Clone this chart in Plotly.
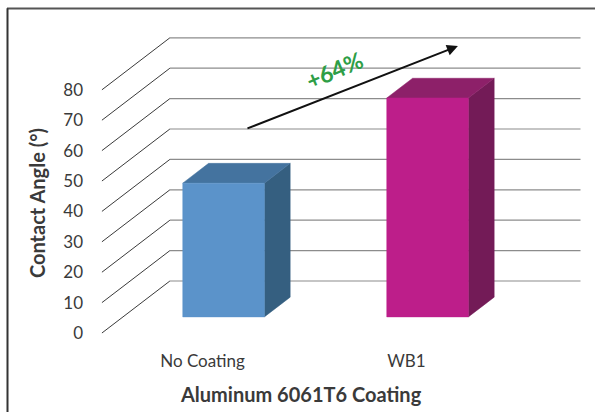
import plotly.graph_objects as go

# Data
categories = ["No Coating", "WB1"]
contact_angle = [44, 72]
y_ticks = [0, 10, 20, 30, 40, 50, 60, 70, 80]
increase_label = "+64%"
x_title = "Aluminum 6061T6 Coating"
y_title = "Contact Angle (°)"

# Bar face colours: front, top, side
front_colors = ["#5b93ca", "#bd1e8a"]
top_colors = ["#44739f", "#8d2069"]
side_colors = ["#355f80", "#731b57"]

# Oblique projection used for the 3-D look (depth d runs 0 = front .. 1 = back wall)
DEPTH_X = 0.333   # x-units shift at the back wall
DEPTH_Y = 17.1    # value-units shift at the back wall
BAR_FRONT, BAR_BACK = 0.31, 0.69
BAR_HALF = 0.2
WALL_LEFT, WALL_RIGHT = -0.493, 1.52


def proj(x, v, d):
    return x + d * DEPTH_X, v + d * DEPTH_Y


def poly(points):
    xs = [p[0] for p in points] + [points[0][0]]
    ys = [p[1] for p in points] + [points[0][1]]
    return xs, ys


fig = go.Figure()

# Walls: diagonals on the side wall and horizontal lines on the back wall
diag_x, diag_y, back_x, back_y = [], [], [], []
for v in y_ticks:
    x0, y0 = proj(WALL_LEFT, v, 0)
    x1, y1 = proj(WALL_LEFT, v, 1)
    x2, y2 = proj(WALL_RIGHT, v, 1)
    diag_x += [x0, x1, None]
    diag_y += [y0, y1, None]
    back_x += [x1, x2, None]
    back_y += [y1, y2, None]

fig.add_trace(go.Scatter(x=back_x, y=back_y, mode="lines",
                         line=dict(color="#8c8c8c", width=1.2),
                         hoverinfo="skip", showlegend=False))
fig.add_trace(go.Scatter(x=diag_x, y=diag_y, mode="lines",
                         line=dict(color="#3a3a3a", width=1),
                         hoverinfo="skip", showlegend=False))

# Bars as projected boxes
for i, (cat, val) in enumerate(zip(categories, contact_angle)):
    xl, xr = i - BAR_HALF, i + BAR_HALF
    fl_b = proj(xl, 0, BAR_FRONT)
    fr_b = proj(xr, 0, BAR_FRONT)
    fr_t = proj(xr, val, BAR_FRONT)
    fl_t = proj(xl, val, BAR_FRONT)
    bl_t = proj(xl, val, BAR_BACK)
    br_t = proj(xr, val, BAR_BACK)
    br_b = proj(xr, 0, BAR_BACK)

    faces = [
        ([fr_b, br_b, br_t, fr_t], side_colors[i]),
        ([fl_t, fr_t, br_t, bl_t], top_colors[i]),
        ([fl_b, fr_b, fr_t, fl_t], front_colors[i]),
    ]
    for pts, col in faces:
        xs, ys = poly(pts)
        fig.add_trace(go.Scatter(x=xs, y=ys, mode="lines", fill="toself",
                                 fillcolor=col, line=dict(color=col, width=0.5),
                                 name=cat, hoverinfo="skip", showlegend=False))

# Arrow showing the increase, with its label
fig.add_annotation(x=1.252, y=94.4, ax=0.213, ay=67.1, xref="x", yref="y",
                   axref="x", ayref="y", text="", showarrow=True,
                   arrowhead=2, arrowsize=1.1, arrowwidth=2, arrowcolor="#111111")
fig.add_annotation(x=0.645, y=86.5, xref="x", yref="y", text=increase_label,
                   showarrow=False, textangle=-23,
                   font=dict(family="Lato", size=23, color="#2e9e46", weight="bold"))

# Axis titles
fig.add_annotation(x=0.422, y=-0.169, xref="paper", yref="paper", text=x_title,
                   showarrow=False, xanchor="center", yanchor="middle",
                   font=dict(family="Lato", size=20, color="#3a3a3a", weight="bold"))
fig.add_annotation(x=-0.106, y=0.428, xref="paper", yref="paper", text=y_title,
                   showarrow=False, textangle=-90, xanchor="center", yanchor="middle",
                   font=dict(family="Lato", size=20, color="#3a3a3a", weight="bold"))

# Outer frame (top and left edges)
fig.add_shape(type="line", xref="paper", yref="paper", x0=-0.166, x1=1.02,
              y0=1.036, y1=1.036, line=dict(color="#555555", width=2))
fig.add_shape(type="line", xref="paper", yref="paper", x0=-0.165, x1=-0.165,
              y0=1.037, y1=-0.23, line=dict(color="#333333", width=2))

fig.update_layout(
    width=595, height=412, autosize=False,
    margin=dict(l=90, r=5, t=20, b=72),
    paper_bgcolor="white", plot_bgcolor="white",
    xaxis=dict(range=[-0.5515, 1.8995], tickmode="array", tickvals=[0, 1],
               ticktext=categories, showgrid=False, zeroline=False, showline=False,
               ticks="", ticklabelstandoff=9,
               tickfont=dict(family="Lato", size=17, color="#3a3a3a")),
    yaxis=dict(range=[-2.30, 102.96], tickmode="array", tickvals=y_ticks,
               showgrid=False, zeroline=False, showline=False, ticks="",
               ticklabelstandoff=6,
               tickfont=dict(family="Lato", size=17, color="#3a3a3a")),
)

fig.write_html("out.html")
